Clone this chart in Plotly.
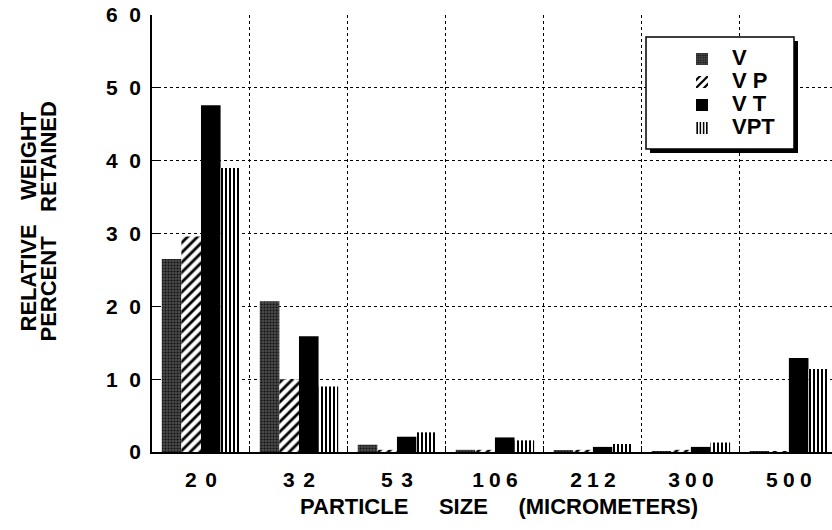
import plotly.graph_objects as go

sizes = [20, 32, 53, 106, 212, 300, 500]
x_labels = ["2\u2009\u20090", "3\u2009\u20092", "5\u2009\u20093", "1\u20050\u20056",
            "2\u20051\u20052", "3\u20050\u20050", "5\u20050\u20050"]
v_vals = [26.5, 20.7, 1.0, 0.3, 0.15, 0.05, 0.05]
vp_vals = [29.6, 10.0, 0.3, 0.3, 0.3, 0.3, 0.05]
vt_vals = [47.6, 15.9, 2.1, 2.0, 0.7, 0.7, 12.9]
vpt_vals = [39.0, 9.0, 2.7, 1.6, 1.1, 1.3, 11.4]
y_ticks = [0, 10, 20, 30, 40, 50, 60]
y_ticktext = ["0", "1  0", "2  0", "3  0", "4  0", "5  0", "6  0"]
series_names = ["V", "V P", "V T", "VPT"]

W, H = 832, 530
L, R, T, B = 152, 0, 15, 78
PW, PH = W - L - R, H - T - B

def px(x):
    return (x - L) / PW

def py(y):
    return (H - B - y) / PH

FONT = "Liberation Sans, Arial, sans-serif"

def lname(s):
    return "<span style='font-size:22px'>%s</span>" % s

fig = go.Figure()
fig.add_trace(go.Bar(
    name=lname(series_names[0]), x=x_labels, y=v_vals,
    marker=dict(color="#444444", line=dict(width=0),
                pattern=dict(shape=".", fgcolor="#111111", bgcolor="#4c4c4c",
                             size=3, solidity=0.4, fillmode="replace")),
))
fig.add_trace(go.Bar(
    name=lname(series_names[1]), x=x_labels, y=vp_vals,
    marker=dict(color="white", line=dict(width=0),
                pattern=dict(shape="/", fgcolor="black", bgcolor="white",
                             size=7, solidity=0.4, fillmode="replace")),
))
fig.add_trace(go.Bar(
    name=lname(series_names[2]), x=x_labels, y=vt_vals,
    marker=dict(color="black", line=dict(width=0)),
))
fig.add_trace(go.Bar(
    name=lname(series_names[3]), x=x_labels, y=vpt_vals,
    marker=dict(color="white", line=dict(width=0),
                pattern=dict(shape="|", fgcolor="black", bgcolor="white",
                             size=4, solidity=0.5, fillmode="replace")),
))

fig.update_layout(
    width=W, height=H,
    margin=dict(l=L, r=R, t=T, b=B),
    paper_bgcolor="white", plot_bgcolor="white",
    barmode="group", bargap=0.2, bargroupgap=0,
    font=dict(family=FONT, size=21, color="black", weight="bold"),
    showlegend=True,
    legend=dict(x=px(672), y=py(42.5), xanchor="left", yanchor="top",
                bgcolor="rgba(0,0,0,0)", borderwidth=0,
                font=dict(family=FONT, size=15.4, color="black", weight="bold"),
                itemwidth=50, tracegroupgap=0),
    xaxis=dict(type="category", range=[-0.5, 6.44], tickson="boundaries",
               ticks="inside", ticklen=6, tickcolor="black", tickwidth=1,
               showgrid=True, gridcolor="black", griddash="dot", gridwidth=1,
               showline=True, linecolor="black", linewidth=1.5,
               ticklabelstandoff=8, tickfont=dict(size=21)),
    yaxis=dict(range=[0, 60], tickvals=y_ticks, ticktext=y_ticktext,
               ticks="inside", ticklen=6, tickcolor="black", tickwidth=1,
               showgrid=True, gridcolor="black", griddash="dot", gridwidth=1,
               showline=True, linecolor="black", linewidth=1.5,
               zeroline=False, ticklabelstandoff=5, tickfont=dict(size=21)),
    shapes=[
        dict(type="rect", xref="paper", yref="paper", layer="above",
             x0=px(650), x1=px(798), y0=py(153), y1=py(41),
             fillcolor="black", line=dict(width=0)),
        dict(type="rect", xref="paper", yref="paper", layer="above",
             x0=px(646), x1=px(794), y0=py(149), y1=py(37),
             fillcolor="white", line=dict(color="black", width=1.5)),
    ],
    annotations=[
        dict(text="RELATIVE    WEIGHT", xref="paper", yref="paper",
             x=px(27.5), y=py(222), textangle=-90, showarrow=False,
             font=dict(family=FONT, size=22, color="black", weight="bold"),
             xanchor="center", yanchor="middle"),
        dict(text="PERCENT    RETAINED", xref="paper", yref="paper",
             x=px(47.5), y=py(222), textangle=-90, showarrow=False,
             font=dict(family=FONT, size=22, color="black", weight="bold"),
             xanchor="center", yanchor="middle"),
        dict(text="PARTICLE     SIZE     (MICROMETERS)", xref="paper", yref="paper",
             x=px(498.5), y=py(507), showarrow=False,
             font=dict(family=FONT, size=22, color="black", weight="bold"),
             xanchor="center", yanchor="middle"),
    ],
)

fig.write_html("out.html")
